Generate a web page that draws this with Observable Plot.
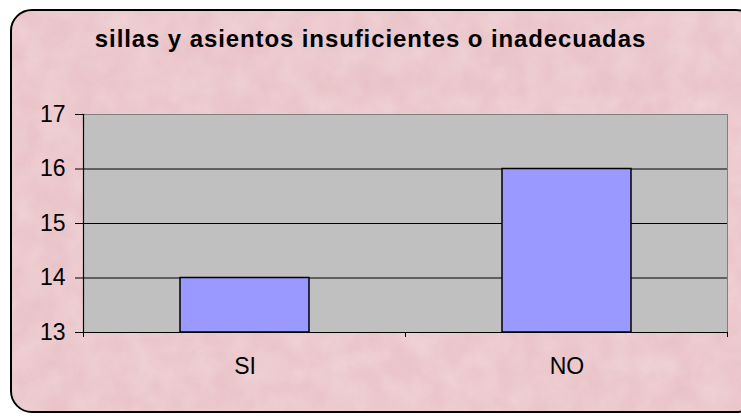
<!DOCTYPE html>
<html>
<head>
<meta charset="utf-8">
<script src="https://cdn.jsdelivr.net/npm/d3@7"></script>
<script src="https://cdn.jsdelivr.net/npm/@observablehq/plot@0.6"></script>
<style>
  html, body { margin: 0; padding: 0; background: #ffffff; }
  #wrap { position: relative; width: 741px; height: 417px; overflow: hidden; font-family: "Liberation Sans", Arial, sans-serif; }
  #card {
    position: absolute; left: 10px; top: 9px; width: 744px; height: 400px;
    border: 2.5px solid #000; border-radius: 22px;
    background-color: #eac2c7;
    overflow: hidden;
  }
  #tex { position: absolute; left: 0; top: 0; }
  #title {
    position: absolute; left: 0; width: 741px; top: 25px; text-align: center;
    font-family: "Liberation Sans Narrow", "Arial Narrow", "Liberation Sans", sans-serif;
    font-weight: bold; font-size: 24px; color: #000; letter-spacing: 0.9px; white-space: nowrap;
  }
  #chart { position: absolute; left: 0; top: 0; }
</style>
</head>
<body>
<div id="wrap">
  <div id="card">
    <svg id="tex" width="760" height="410">
      <filter id="mottle" x="0" y="0" width="100%" height="100%">
        <feTurbulence type="fractalNoise" baseFrequency="0.035" numOctaves="4" seed="7"/>
        <feColorMatrix type="matrix" values="0 0 0 0 1  0 0 0 0 1  0 0 0 0 1  0 0 0 -1.1 1.05"/>
      </filter>
      <filter id="mottle2" x="0" y="0" width="100%" height="100%">
        <feTurbulence type="fractalNoise" baseFrequency="0.05" numOctaves="3" seed="3"/>
        <feColorMatrix type="matrix" values="0 0 0 0 0.75  0 0 0 0 0.5  0 0 0 0 0.55  0 0 0 -1.2 0.85"/>
      </filter>
      <rect width="760" height="410" filter="url(#mottle)" opacity="0.3"/>
      <rect width="760" height="410" filter="url(#mottle2)" opacity="0.3"/>
    </svg>
  </div>
  <div id="title"></div>
  <div id="chart"></div>
</div>
<script>
const titleText = "sillas y asientos insuficientes o inadecuadas";
const categories = ["SI", "NO"];
const values = [14, 16];
const yTicks = [13, 14, 15, 16, 17];
const yDomain = [13, 17];

document.getElementById("title").textContent = titleText;

const data = categories.map((c, i) => ({ cat: c, value: values[i] }));

const plot = Plot.plot({
  width: 741,
  height: 417,
  marginLeft: 83,
  marginRight: 14,
  marginTop: 114,
  marginBottom: 85,
  style: { background: "transparent", fontFamily: "'Liberation Sans Narrow', 'Arial Narrow', 'Liberation Sans', sans-serif", fontSize: "23px", color: "#000", overflow: "visible" },
  x: { domain: categories, paddingInner: 0.6, paddingOuter: 0.3, label: null },
  y: { domain: yDomain, ticks: yTicks, label: null },
  marks: [
    Plot.frame({ fill: "#c0c0c0", stroke: "#808080", strokeWidth: 1 }),
    Plot.gridY(yTicks.slice(1, -1), { stroke: "#000", strokeOpacity: 1, strokeWidth: 1 }),
    Plot.barY(data, { x: "cat", y1: yDomain[0], y2: "value", fill: "#9999ff", stroke: "#000", strokeWidth: 1.5 }),
    Plot.axisY({ ticks: yTicks, tickFormat: "d", tickSize: 8, tickPadding: 10, stroke: "#000", fontSize: 23 }),
    Plot.axisX({ tickSize: 0, tickPadding: 25, fontSize: 23 }),
    Plot.ruleY([yDomain[0]], { stroke: "#000", strokeWidth: 1.2 }),
    Plot.frame({ anchor: "left", stroke: "#000", strokeWidth: 1.2 })
  ]
});

// category boundary tick marks, derived from the x band scale
const xs = plot.scale("x");
const ys = plot.scale("y");
const gap = (xs.step - xs.bandwidth) / 2;
const bounds = categories.map(c => xs.apply(c) - gap);
bounds.push(xs.apply(categories[categories.length - 1]) + xs.bandwidth + gap);
const y0 = ys.apply(yDomain[0]);
d3.select(plot).append("g")
  .selectAll("line").data(bounds).join("line")
  .attr("x1", d => d).attr("x2", d => d)
  .attr("y1", y0).attr("y2", y0 + 5)
  .attr("stroke", "#000").attr("stroke-width", 1);

document.getElementById("chart").appendChild(plot);
</script>
</body>
</html>
